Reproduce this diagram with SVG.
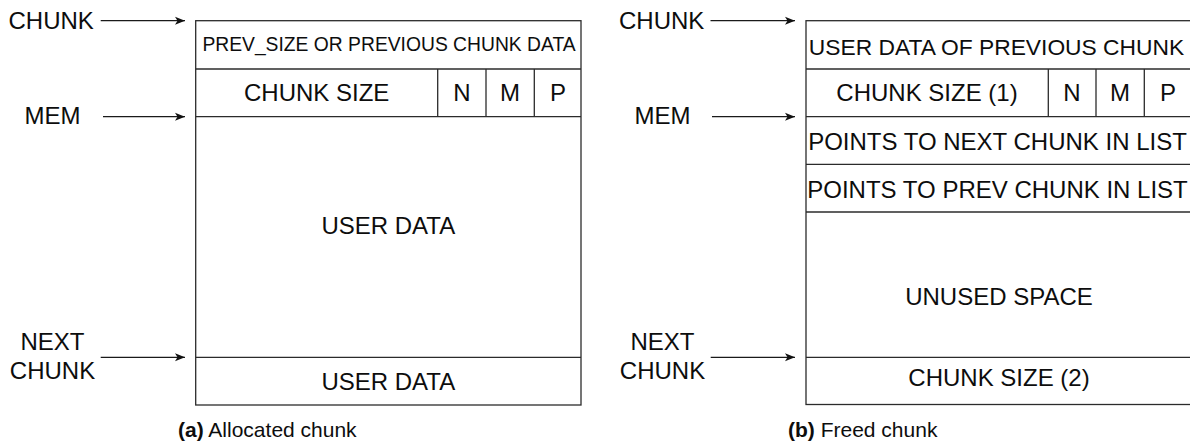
<svg xmlns="http://www.w3.org/2000/svg" width="1190" height="443" viewBox="0 0 1190 443">
  <style>
    .box { fill: #ffffff; stroke: #2b2b2b; stroke-width: 1.3; }
    .sep { stroke: #2b2b2b; stroke-width: 1.3; fill: none; }
    .wire { stroke: #1a1a1a; stroke-width: 1.3; fill: none; marker-end: url(#head); }
    text { font-family: "Liberation Sans", Arial, Helvetica, sans-serif; fill: #0d0d0d; }
    .lbl { font-size: 24px; }
    .cell { font-size: 24px; text-anchor: middle; }
    .small { font-size: 19.3px; text-anchor: middle; }
    .cap { font-size: 21px; }
    .cap tspan.tag { font-weight: bold; }
  </style>
  <defs>
    <marker id="head" markerUnits="userSpaceOnUse" markerWidth="12" markerHeight="10" viewBox="0 0 12 10" refX="11" refY="5" orient="auto">
      <path d="M1,1 L11,5 L1,9 L3.5,5 Z" fill="#111111"/>
    </marker>
  </defs>

  <!-- pointer labels -->
  <g id="labels-a">
    <text class="lbl" x="8.5" y="29">CHUNK</text>
    <text class="lbl" x="24.5" y="124">MEM</text>
    <text class="lbl" x="52.5" y="350" text-anchor="middle">NEXT</text>
    <text class="lbl" x="52.5" y="379" text-anchor="middle">CHUNK</text>
  </g>
  <g id="labels-b">
    <text class="lbl" x="619" y="29">CHUNK</text>
    <text class="lbl" x="634.5" y="124">MEM</text>
    <text class="lbl" x="662.5" y="350" text-anchor="middle">NEXT</text>
    <text class="lbl" x="662.5" y="379" text-anchor="middle">CHUNK</text>
  </g>

  <!-- pointer arrows -->
  <g id="connectors">
    <line class="wire" x1="100.7" y1="20.7" x2="185" y2="20.7"/>
    <line class="wire" x1="103" y1="116.7" x2="185" y2="116.7"/>
    <line class="wire" x1="100.7" y1="357.3" x2="185" y2="357.3"/>
    <line class="wire" x1="710.5" y1="20.7" x2="795" y2="20.7"/>
    <line class="wire" x1="712" y1="116.7" x2="795" y2="116.7"/>
    <line class="wire" x1="710.7" y1="357.3" x2="795" y2="357.3"/>
  </g>

  <!-- (a) allocated chunk layout -->
  <g id="allocated-chunk">
    <rect class="box" x="195.7" y="20.7" width="385.3" height="384.3"/>
    <line class="sep" x1="195.7" y1="69" x2="581" y2="69"/>
    <line class="sep" x1="195.7" y1="116.7" x2="581" y2="116.7"/>
    <line class="sep" x1="195.7" y1="357.3" x2="581" y2="357.3"/>
    <line class="sep" x1="437.7" y1="69" x2="437.7" y2="116.7"/>
    <line class="sep" x1="486" y1="69" x2="486" y2="116.7"/>
    <line class="sep" x1="534.3" y1="69" x2="534.3" y2="116.7"/>
    <text class="small" x="389" y="51">PREV_SIZE OR PREVIOUS CHUNK DATA</text>
    <text class="cell" x="316.7" y="101">CHUNK SIZE</text>
    <text class="cell" x="462" y="101">N</text>
    <text class="cell" x="510" y="101">M</text>
    <text class="cell" x="558" y="101">P</text>
    <text class="cell" x="388.3" y="233.5">USER DATA</text>
    <text class="cell" x="388.3" y="390">USER DATA</text>
  </g>

  <!-- (b) freed chunk layout -->
  <g id="freed-chunk">
    <rect class="box" x="806" y="20.7" width="386.6" height="383.8"/>
    <line class="sep" x1="806" y1="69" x2="1192.6" y2="69"/>
    <line class="sep" x1="806" y1="116.7" x2="1192.6" y2="116.7"/>
    <line class="sep" x1="806" y1="164.3" x2="1192.6" y2="164.3"/>
    <line class="sep" x1="806" y1="212" x2="1192.6" y2="212"/>
    <line class="sep" x1="806" y1="357.3" x2="1192.6" y2="357.3"/>
    <line class="sep" x1="1048.3" y1="69" x2="1048.3" y2="116.7"/>
    <line class="sep" x1="1096" y1="69" x2="1096" y2="116.7"/>
    <line class="sep" x1="1144.3" y1="69" x2="1144.3" y2="116.7"/>
    <text class="cell" x="996.5" y="54.5" style="font-size:22.8px">USER DATA OF PREVIOUS CHUNK</text>
    <text class="cell" x="927" y="101">CHUNK SIZE (1)</text>
    <text class="cell" x="1072" y="101">N</text>
    <text class="cell" x="1120" y="101">M</text>
    <text class="cell" x="1168" y="101">P</text>
    <text class="cell" x="997.5" y="150">POINTS TO NEXT CHUNK IN LIST</text>
    <text class="cell" x="997.5" y="198">POINTS TO PREV CHUNK IN LIST</text>
    <text class="cell" x="999" y="305">UNUSED SPACE</text>
    <text class="cell" x="999" y="386">CHUNK SIZE (2)</text>
  </g>

  <!-- sub-figure captions -->
  <g id="captions">
    <text class="cap" x="178" y="437"><tspan class="tag">(a)</tspan> Allocated chunk</text>
    <text class="cap" x="788" y="437"><tspan class="tag">(b)</tspan> Freed chunk</text>
  </g>
</svg>
